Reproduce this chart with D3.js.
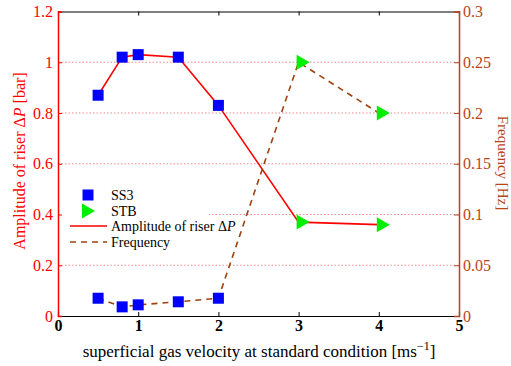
<!DOCTYPE html>
<html>
<head>
<meta charset="utf-8">
<script src="https://cdn.jsdelivr.net/npm/d3@7"></script>
<style>
  html, body { margin: 0; padding: 0; background: #fff; }
</style>
</head>
<body>
<svg id="chart" width="511" height="366"></svg>
<script>
// Riser pressure amplitude and oscillation frequency vs. superficial gas velocity
const velocity  = [0.5, 0.8, 1.0, 1.5, 2.0, 3.0, 4.0];
const amplitude = [0.87, 1.02, 1.03, 1.02, 0.83, 0.37, 0.36];   // bar
const frequency = [0.0175, 0.009, 0.011, 0.014, 0.0175, 0.25, 0.20]; // Hz
const regime    = ["SS3", "SS3", "SS3", "SS3", "SS3", "STB", "STB"];

const xTicks     = [0, 1, 2, 3, 4, 5];
const leftTicks  = [0, 0.2, 0.4, 0.6, 0.8, 1, 1.2];
const rightTicks = [0, 0.05, 0.1, 0.15, 0.2, 0.25, 0.3];

const RED = "#ff0000";
const BROWN_AXIS = "#b8441a";
const BROWN_LINE = "#9e420f";
const BLUE = "#0000ff";
const GREEN = "#00ee00";
const SERIF = "Liberation Serif";

const svg = d3.select("#chart").attr("font-family", SERIF);
const plotL = 58, plotR = 459, plotT = 11.5, plotB = 316;

const x  = d3.scaleLinear().domain([0, 5]).range([plotL, plotR]);
const yL = d3.scaleLinear().domain([0, 1.2]).range([plotB, plotT]);
const yR = d3.scaleLinear().domain([0, 0.3]).range([plotB, plotT]);

const rows = velocity.map((v, i) => ({ v, a: amplitude[i], f: frequency[i], r: regime[i] }));

// dotted grid at left-axis ticks
svg.append("g").selectAll("line")
  .data(leftTicks.filter(t => t > 0 && t < 1.2))
  .join("line")
  .attr("x1", plotL).attr("x2", plotR)
  .attr("y1", d => yL(d)).attr("y2", d => yL(d))
  .attr("stroke", "#f08a8a").attr("stroke-width", 1)
  .attr("stroke-dasharray", "1.5,2");

// legend background
svg.append("rect").attr("x", plotL + 1).attr("y", 185).attr("width", 150).attr("height", 66)
  .attr("fill", "#fff");

// top and bottom frame with inward ticks
const xAxisBottom = d3.axisBottom(x).tickValues(xTicks).tickSize(-4).tickPadding(4).tickFormat(d3.format("d"));
const gB = svg.append("g").attr("transform", `translate(0,${plotB})`).call(xAxisBottom)
  .attr("font-family", SERIF);
gB.select(".domain").attr("stroke", "#000").attr("stroke-width", 1.2);
gB.selectAll(".tick line").attr("stroke", "#000");
gB.selectAll(".tick text").attr("font-size", 16).attr("font-weight", "bold").attr("fill", "#000");

const xAxisTop = d3.axisTop(x).tickValues(xTicks).tickSize(-4).tickFormat("");
const gT = svg.append("g").attr("transform", `translate(0,${plotT})`).call(xAxisTop);
gT.select(".domain").attr("stroke", "#000").attr("stroke-width", 1.2);
gT.selectAll(".tick line").attr("stroke", "#000");

// left axis (amplitude)
const gL = svg.append("g").attr("transform", `translate(${plotL},0)`)
  .call(d3.axisLeft(yL).tickValues(leftTicks).tickSize(-4).tickPadding(5).tickFormat(d => d3.format("~g")(d)))
  .attr("font-family", SERIF);
gL.select(".domain").attr("stroke", RED).attr("stroke-width", 1.5);
gL.selectAll(".tick line").attr("stroke", RED);
gL.selectAll(".tick text").attr("font-size", 16).attr("fill", RED);

// right axis (frequency)
const gR = svg.append("g").attr("transform", `translate(${plotR},0)`)
  .call(d3.axisRight(yR).tickValues(rightTicks).tickSize(-5).tickPadding(4).tickFormat(d => d3.format("~g")(d)))
  .attr("font-family", SERIF);
gR.select(".domain").attr("stroke", BROWN_AXIS).attr("stroke-width", 1.5);
gR.selectAll(".tick line").attr("stroke", BROWN_AXIS);
gR.selectAll(".tick text").attr("font-size", 16).attr("fill", BROWN_AXIS);

// amplitude line
svg.append("path").datum(rows)
  .attr("d", d3.line().x(d => x(d.v)).y(d => yL(d.a)))
  .attr("fill", "none").attr("stroke", RED).attr("stroke-width", 1.6);

// frequency line
svg.append("path").datum(rows)
  .attr("d", d3.line().x(d => x(d.v)).y(d => yR(d.f)))
  .attr("fill", "none").attr("stroke", BROWN_LINE).attr("stroke-width", 1.6)
  .attr("stroke-dasharray", "6,5");

// markers
function marker(sel, r) {
  if (r === "SS3") {
    sel.append("rect").attr("x", -5.5).attr("y", -5.5).attr("width", 11).attr("height", 11).attr("fill", BLUE);
  } else {
    sel.append("path").attr("d", "M-2,-7.5L-2,7.5L11,0Z").attr("fill", GREEN);
  }
}
[["a", yL], ["f", yR]].forEach(([key, scale]) => {
  rows.forEach(d => {
    const g = svg.append("g").attr("transform", `translate(${x(d.v)},${scale(d[key])})`);
    marker(g, d.r);
  });
});

// legend
const lg = svg.append("g").attr("font-size", 14).attr("fill", "#000").attr("font-family", SERIF);
const lx = 88, tx = 111;
const l1 = lg.append("g").attr("transform", `translate(${lx},195)`); marker(l1, "SS3");
const l2 = lg.append("g").attr("transform", `translate(${lx - 4},211)`); marker(l2, "STB");
lg.append("line").attr("x1", 70).attr("x2", 107).attr("y1", 226).attr("y2", 226)
  .attr("stroke", RED).attr("stroke-width", 1.6);
lg.append("line").attr("x1", 70).attr("x2", 107).attr("y1", 242).attr("y2", 242)
  .attr("stroke", BROWN_LINE).attr("stroke-width", 1.6).attr("stroke-dasharray", "6,5");
lg.append("text").attr("x", tx).attr("y", 200).text("SS3");
lg.append("text").attr("x", tx).attr("y", 216).text("STB");
const t3 = lg.append("text").attr("x", tx).attr("y", 231);
t3.append("tspan").text("Amplitude of riser Δ");
t3.append("tspan").attr("font-style", "italic").text("P");
lg.append("text").attr("x", tx).attr("y", 247).text("Frequency");

// axis titles
const xl = svg.append("text").attr("x", 259).attr("y", 357).attr("text-anchor", "middle")
  .attr("font-size", 17).attr("fill", "#000").attr("font-family", SERIF);
xl.append("tspan").text("superficial gas velocity at standard condition [ms");
xl.append("tspan").attr("dy", -7).attr("font-size", 12).text("−1");
xl.append("tspan").attr("dy", 7).text("]");

const yl = svg.append("text").attr("transform", `translate(25,161) rotate(-90)`)
  .attr("text-anchor", "middle").attr("font-size", 16).attr("fill", RED).attr("font-family", SERIF);
yl.append("tspan").text("Amplitude of riser  Δ");
yl.append("tspan").attr("font-style", "italic").text("P");
yl.append("tspan").text(" [bar]");

svg.append("text").attr("transform", `translate(498,163) rotate(90)`)
  .attr("text-anchor", "middle").attr("font-size", 15).attr("fill", BROWN_AXIS).attr("font-family", SERIF)
  .text("Frequency [Hz]");
</script>
</body>
</html>
